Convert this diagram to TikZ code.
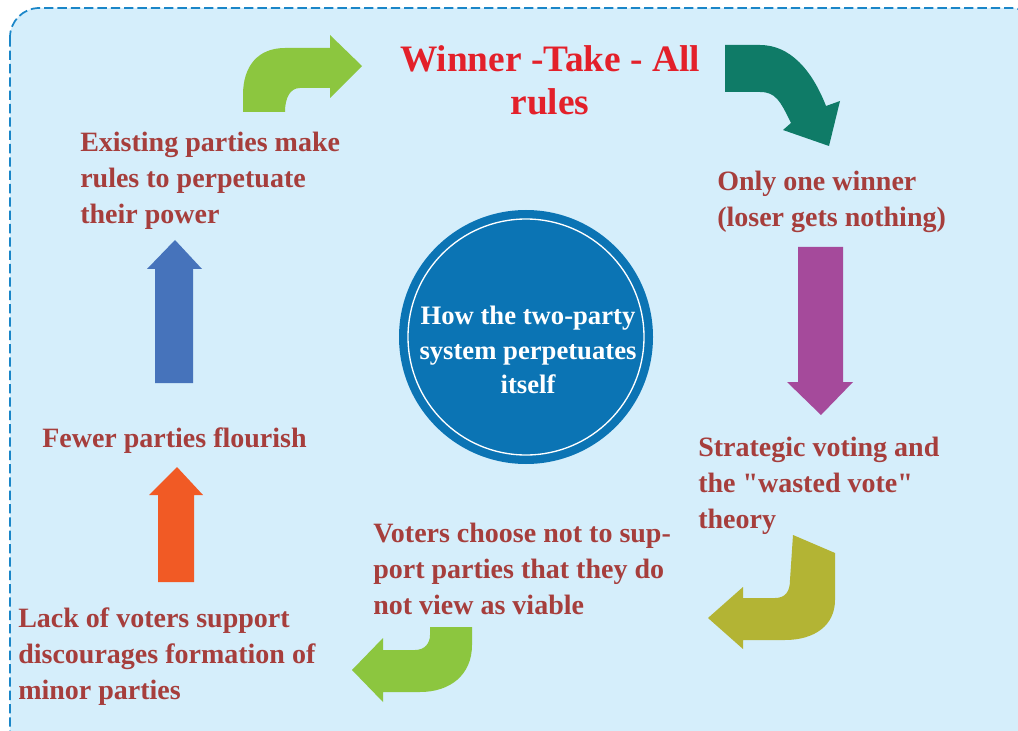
\documentclass[tikz,border=0pt]{standalone}
\usepackage{fontspec}
\setmainfont{Liberation Serif}[Ligatures=TeXOff]
\definecolor{panel}{HTML}{D5EEFB}
\definecolor{rim}{HTML}{1A86C8}
\definecolor{brown}{HTML}{A63E3C}
\definecolor{titlered}{HTML}{E3202A}
\definecolor{disc}{HTML}{0B74B4}
\definecolor{leaf}{HTML}{8CC63F}
\definecolor{teal}{HTML}{0F7B67}
\definecolor{plum}{HTML}{A54A9B}
\definecolor{olive}{HTML}{B3B434}
\definecolor{steel}{HTML}{4673BB}
\definecolor{flame}{HTML}{F15A25}
\begin{document}
\begin{tikzpicture}[x=0.75pt,y=-0.75pt,
    txt/.style={inner sep=0pt,align=left,anchor=west,text=brown,
      font=\fontsize{21}{27}\selectfont\bfseries},
    title/.style={inner sep=0pt,align=center,text=titlered,
      font=\fontsize{28}{32}\selectfont\bfseries},
    hub/.style={inner sep=0pt,align=center,text=white,
      font=\fontsize{20}{26}\selectfont\bfseries}]
    \useasboundingbox (0,0) rectangle (1018,731);
    \clip (0,0) rectangle (1018,731);
    % panel
    \filldraw[fill=panel,draw=rim,line width=1.3pt,dash pattern=on 7pt off 3pt,rounded corners=22pt]
        (10,8) rectangle (1040,760);
    % centre disc
    \fill[disc] (526,337) circle[radius=127];
    \draw[white,line width=1pt] (526,337) circle[radius=118];
    \node[hub] (hub) at (528,350) {How the two-party\\system perpetuates\\itself};
    % texts
    \node[title] (rule) at (550,80) {Winner -Take - All\\rules};
    \node[txt] (win) at (717,202) {Only one winner\\(loser gets nothing)};
    \node[txt] (vote) at (698,486) {Strategic voting and\\the "wasted vote"\\theory};
    \node[txt] (view) at (373,569) {Voters choose not to sup-\\port parties that they do\\not view as viable};
    \node[txt] (lack) at (18,657) {Lack of voters support\\discourages formation of\\minor parties};
    \node[txt] (few) at (42,441) {Fewer parties flourish};
    \node[txt] (rules) at (80,181) {Existing parties make\\rules to perpetuate\\their power};
    % curved arrows
    \fill[leaf] (243,112) -- (243,95) .. controls (243,66) and (258,48) .. (285,48)
        -- (330,48) -- (330,35) -- (362,66) -- (330,98) -- (330,88) -- (300,88)
        .. controls (290,88) and (285,98) .. (285,112) -- cycle;
    \fill[teal] (725,45) -- (760,45) .. controls (790,45) and (812,70) .. (826,106)
        -- (840,101) -- (829,146) -- (783,130) -- (791,123)
        .. controls (780,100) and (775,92) .. (760,92) -- (725,92) -- cycle;
    \fill[olive] (793,535) -- (835,553) -- (835,600) .. controls (835,625) and (815,640) .. (785,640)
        -- (743,640) -- (743,649) -- (708,618) -- (743,587) -- (743,598) -- (775,598)
        .. controls (785,598) and (790,592) .. (790,580) -- cycle;
    \fill[leaf] (430,627) -- (472,627) -- (472,645) .. controls (472,675) and (450,692) .. (420,692)
        -- (383,692) -- (383,702) -- (352,670) -- (383,638) -- (383,650) -- (415,650)
        .. controls (425,650) and (430,643) .. (430,635) -- cycle;
    % straight arrows
    \fill[plum] (798,247) -- (843,247) -- (843,382) -- (853,382) -- (821,415)
        -- (787,382) -- (798,382) -- cycle;
    \fill[flame] (158,582) -- (194,582) -- (194,495) -- (203,495) -- (177,467)
        -- (149,495) -- (158,495) -- cycle;
    \fill[steel] (155,383) -- (193,383) -- (193,269) -- (202,269) -- (175,240)
        -- (147,269) -- (155,269) -- cycle;
\end{tikzpicture}
\end{document}
